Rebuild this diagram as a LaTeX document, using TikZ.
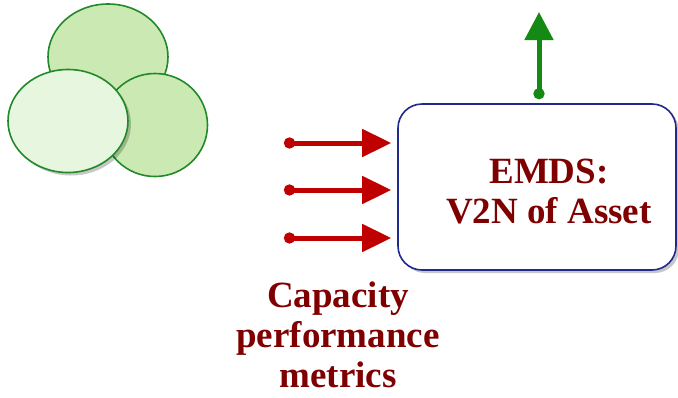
\documentclass[tikz,border=0pt]{standalone}
\usepackage{fontspec}
\setmainfont{Liberation Serif}
\usetikzlibrary{arrows.meta,shadows,shapes.geometric}
\definecolor{leafgreen}{HTML}{CBEAB3}
\definecolor{leaflight}{HTML}{E7F6DE}
\definecolor{leafedge}{HTML}{22892A}
\definecolor{arrowred}{HTML}{C00000}
\definecolor{textred}{HTML}{7F0000}
\definecolor{boxblue}{HTML}{1F2A8C}
\definecolor{uparrow}{HTML}{148A14}
\tikzset{
  blob/.style={ellipse, draw=leafedge, line width=1.6pt, inner sep=0pt},
  softshadow/.style={drop shadow={shadow xshift=3pt, shadow yshift=-3pt, fill=black, opacity=0.22}},
  inarrow/.style={draw=arrowred, line width=5pt,
    {Circle[length=11pt,width=11pt]}-{Triangle[length=29pt,width=27pt]}},
  outarrow/.style={draw=uparrow, line width=5pt,
    {Circle[length=11pt,width=11pt]}-{Triangle[length=28pt,width=28pt]}},
  label/.style={text=textred, font=\bfseries\fontsize{37}{40}\selectfont, align=center},
  panel/.style={draw=boxblue, line width=1.6pt, fill=white, rounded corners=24pt,
    minimum width=278pt, minimum height=166pt, softshadow}
}
\begin{document}
\begin{tikzpicture}[x=1pt,y=-1pt]
  \useasboundingbox (0,0) rectangle (678,397);
  % cluster of three overlapping discs
  \node[blob, fill=leafgreen, minimum width=120pt, minimum height=106pt] (topdisc) at (108,57) {};
  \node[blob, fill=leafgreen, minimum width=105pt, minimum height=103pt] (rightdisc) at (155,125) {};
  \node[blob, fill=leaflight, minimum width=120pt, minimum height=103pt, softshadow] (leftdisc) at (68,121) {};

  % main box
  \node[panel] (box) at (537,187) {};
  \node[label] (title) at (549,192) {EMDS:\\V2N of Asset};

  % incoming metric arrows
  \coordinate (in1) at (284,143);
  \coordinate (in2) at (284,190);
  \coordinate (in3) at (284,238);
  \draw[inarrow, shorten >=6pt] (in1) -- (in1 -| box.west);
  \draw[inarrow, shorten >=6pt] (in2) -- (in2 -| box.west);
  \draw[inarrow, shorten >=6pt] (in3) -- (in3 -| box.west);

  % outgoing arrow
  \coordinate (out) at (539,12);
  \draw[outarrow] (box.north -| out) ++(0,-4) -- (out);

  \node[label] (metrics) at (338,335) {Capacity\\performance\\metrics};
\end{tikzpicture}
\end{document}
